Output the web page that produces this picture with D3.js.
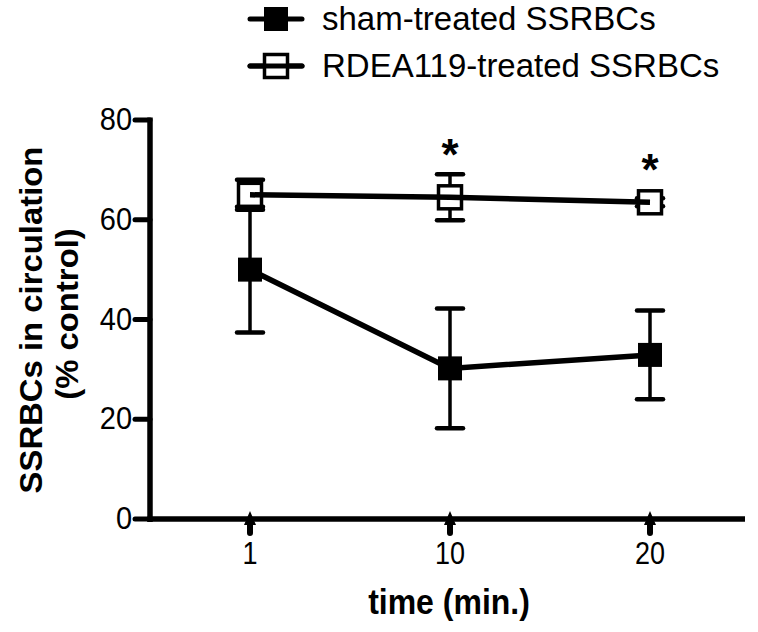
<!DOCTYPE html>
<html><head><meta charset="utf-8">
<script src="https://cdn.jsdelivr.net/npm/d3@7"></script>
<style>body{margin:0;background:#fff}svg{display:block}text{font-family:"Liberation Sans",Arial,sans-serif;fill:#000}</style>
</head><body>
<script>
const categories = ["1", "10", "20"];
const shamMean = [50, 30.2, 32.9];
const shamErr = [12.6, 12, 8.9];
const rdeaMean = [65, 64.5, 63.5];
const rdeaErr = [3, 4.6, 0.8];
const significant = [false, true, true];
const yTicks = [0, 20, 40, 60, 80];
const seriesNames = ["sham-treated SSRBCs", "RDEA119-treated SSRBCs"];

const W = 758, H = 632;
const svg = d3.select("body").append("svg").attr("width", W).attr("height", H);
const x = d3.scalePoint().domain(categories).range([250, 650]);
const y = d3.scaleLinear().domain([0, 80]).range([519, 120]);
const xAxisStart = 150, xAxisEnd = 745;

function stext(g, px, py, str, size, weight, anchor, s) {
  return g.append("text").attr("transform", `translate(${px},${py}) scale(1,${s})`)
    .attr("text-anchor", anchor || "start").attr("font-size", size)
    .attr("font-weight", weight || "normal").text(str);
}

// axes
svg.append("line").attr("x1", xAxisStart).attr("x2", xAxisStart).attr("y1", y(80) - 2.5).attr("y2", y(0) + 3)
  .attr("stroke", "#000").attr("stroke-width", 5.5);
svg.append("line").attr("x1", xAxisStart - 2.5).attr("x2", xAxisEnd).attr("y1", y(0)).attr("y2", y(0))
  .attr("stroke", "#000").attr("stroke-width", 5.5);
yTicks.forEach(t => {
  svg.append("line").attr("x1", 135).attr("x2", xAxisStart).attr("y1", y(t)).attr("y2", y(t))
    .attr("stroke", "#000").attr("stroke-width", 5).attr("stroke-linecap", "round");
  stext(svg, 132, y(t) + 10, String(t), 29, "normal", "end", 1.08);
});
categories.forEach(c => {
  svg.append("path").attr("transform", `translate(${x(c)},${y(0)})`)
    .attr("d", "M0,-8 L6,6 L3,6 L3,14 Q3,17 0,17 Q-3,17 -3,14 L-3,6 L-6,6 Z").attr("fill", "#000");
  stext(svg, x(c), 564, c, 27, "normal", "middle", 1.15);
});
stext(svg, 449, 614, "time (min.)", 32, "bold", "middle", 1.1);
svg.append("text").attr("transform", `translate(42,320) scale(1,1.06) rotate(-90)`)
  .attr("text-anchor", "middle").attr("font-size", 31).attr("font-weight", "bold").text("SSRBCs in circulation");
svg.append("text").attr("transform", `translate(78,314) scale(1,1.06) rotate(-90)`)
  .attr("text-anchor", "middle").attr("font-size", 31).attr("font-weight", "bold").text("(% control)");

function errorBars(means, errs) {
  categories.forEach((c, i) => {
    const cx = x(c), lo = y(means[i] - errs[i]), hi = y(means[i] + errs[i]);
    svg.append("line").attr("x1", cx).attr("x2", cx).attr("y1", lo).attr("y2", hi).attr("stroke", "#000").attr("stroke-width", 3.5);
    [lo, hi].forEach(v => svg.append("line").attr("x1", cx - 13).attr("x2", cx + 13).attr("y1", v).attr("y2", v)
      .attr("stroke", "#000").attr("stroke-width", 4.5).attr("stroke-linecap", "round"));
  });
}
const line = d3.line().x((d, i) => x(categories[i])).y(d => y(d));

// sham series
errorBars(shamMean, shamErr);
svg.append("path").attr("d", line(shamMean)).attr("fill", "none").attr("stroke", "#000").attr("stroke-width", 5.5);
shamMean.forEach((m, i) => svg.append("rect").attr("x", x(categories[i]) - 12).attr("y", y(m) - 12)
  .attr("width", 24).attr("height", 24).attr("fill", "#000"));

// RDEA series
errorBars(rdeaMean, rdeaErr);
rdeaMean.forEach((m, i) => svg.append("rect").attr("x", x(categories[i]) - 11.5).attr("y", y(m) - 11.5)
  .attr("width", 23).attr("height", 23).attr("fill", "#fff").attr("stroke", "#000").attr("stroke-width", 3.5));
svg.append("path").attr("d", line(rdeaMean)).attr("fill", "none").attr("stroke", "#000").attr("stroke-width", 5.5);

// significance stars
categories.forEach((c, i) => {
  if (!significant[i]) return;
  const top = Math.min(y(rdeaMean[i] + rdeaErr[i]), y(rdeaMean[i]) - 13);
  svg.append("text").attr("x", x(c)).attr("y", top - 4).attr("text-anchor", "middle")
    .attr("font-size", 44).attr("font-weight", "bold").text("*");
});

// legend
const lg = svg.append("g");
[19, 66].forEach((ly, k) => {
  lg.append("line").attr("x1", 250).attr("x2", 302).attr("y1", ly).attr("y2", ly)
    .attr("stroke", "#000").attr("stroke-width", 5).attr("stroke-linecap", "round");
  if (k === 0) lg.append("rect").attr("x", 264).attr("y", ly - 12).attr("width", 24).attr("height", 24).attr("fill", "#000");
  else {
    lg.append("rect").attr("x", 264.5).attr("y", ly - 11.5).attr("width", 23).attr("height", 23)
      .attr("fill", "#fff").attr("stroke", "#000").attr("stroke-width", 3.5);
    lg.append("line").attr("x1", 250).attr("x2", 302).attr("y1", ly).attr("y2", ly)
      .attr("stroke", "#000").attr("stroke-width", 5).attr("stroke-linecap", "round");
  }
  stext(lg, 322, ly + 11, seriesNames[k], 33, "normal", "start", 1.03);
});
</script>
</body></html>
